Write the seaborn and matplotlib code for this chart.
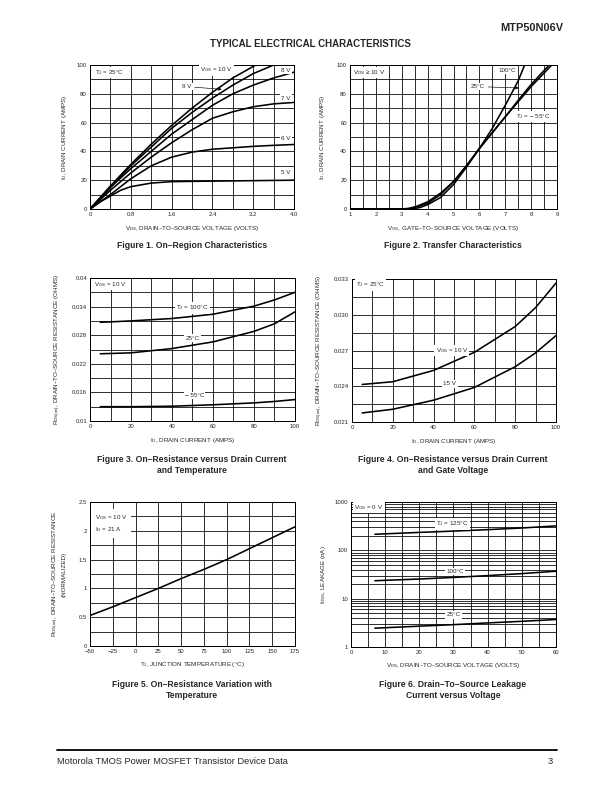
import numpy as np
import pandas as pd
import matplotlib
matplotlib.use('Agg')
import matplotlib.pyplot as plt
import seaborn as sns

# ---- Figure 1: on-region characteristics (VDS, ID) per VGS
f1_vgs10_x = [0, 0.4, 0.8, 1.2, 1.6, 2.0, 2.4, 2.8, 3.25]
f1_vgs10_y = [0, 16, 31, 45, 58, 70, 81, 91, 100]
f1_vgs9_x = [0, 0.4, 0.8, 1.2, 1.6, 2.0, 2.4, 2.8, 3.2, 3.6]
f1_vgs9_y = [0, 15, 30, 43, 56, 67, 77, 86, 94, 100]
f1_vgs8_x = [0, 0.4, 0.8, 1.2, 1.6, 2.0, 2.4, 2.8, 3.2, 3.6, 4.0]
f1_vgs8_y = [0, 15, 28, 40, 52, 62, 72, 80, 86, 91, 95]
f1_vgs7_x = [0, 0.4, 0.8, 1.2, 1.6, 2.0, 2.4, 2.8, 3.2, 3.6, 4.0]
f1_vgs7_y = [0, 13, 25, 36, 46, 55, 63, 67.5, 71, 73, 74]
f1_vgs6_x = [0, 0.4, 0.8, 1.2, 1.6, 2.0, 2.4, 2.8, 3.2, 3.6, 4.0]
f1_vgs6_y = [0, 10, 21, 30, 36, 39.5, 41.5, 42.5, 43.5, 44.2, 44.8]
f1_vgs5_x = [0, 0.2, 0.4, 0.6, 0.8, 1.2, 1.6, 2.0, 3.0, 4.0]
f1_vgs5_y = [0, 5, 9, 13, 15.5, 18, 19, 19.2, 19.6, 20]

# ---- Figure 2: transfer characteristics (VGS, ID) per TJ
f2_t100_x = [1, 3.0, 3.3, 3.6, 4.0, 4.5, 5.0, 5.5, 6.0, 6.5, 7.0, 7.5, 7.75]
f2_t100_y = [0, 0, 0.5, 2, 5, 11, 19, 30, 42, 56, 72, 89, 100]
f2_t25_x = [1, 3.2, 3.5, 4.0, 4.5, 5.0, 5.5, 6.0, 6.5, 7.0, 7.5, 8.0, 8.7]
f2_t25_y = [0, 0, 1, 4, 10, 19, 30, 42, 53, 64, 75.5, 86.5, 100]
f2_tm55_x = [1, 3.4, 3.7, 4.0, 4.5, 5.0, 5.5, 6.0, 6.5, 7.0, 7.5, 8.0, 8.8]
f2_tm55_y = [0, 0, 1, 3, 8, 17, 29, 42, 53, 64, 74.5, 85, 100]

# ---- Figure 3: RDS(on) vs ID per TJ
f3_id = [5, 20, 40, 60, 80, 90, 100]
f3_t100 = [0.0307, 0.0310, 0.0315, 0.0324, 0.0341, 0.0354, 0.0370]
f3_t25 = [0.0241, 0.0243, 0.0252, 0.0266, 0.0288, 0.0304, 0.0329]
f3_tm55 = [0.0130, 0.0130, 0.0131, 0.0134, 0.0138, 0.0141, 0.0145]

# ---- Figure 4: RDS(on) vs ID per VGS
f4_id = [5, 20, 40, 60, 80, 90, 100]
f4_v10 = [0.02415, 0.02438, 0.02533, 0.02685, 0.02901, 0.03060, 0.03266]
f4_v15 = [0.02176, 0.02207, 0.02283, 0.02390, 0.02564, 0.02680, 0.02825]

# ---- Figure 5: normalized RDS(on) vs TJ
f5_tj = [-50, -25, 0, 25, 50, 75, 100, 125, 150, 175]
f5_rds = [0.53, 0.68, 0.84, 1.0, 1.17, 1.33, 1.5, 1.69, 1.88, 2.07]

# ---- Figure 6: IDSS leakage vs VDS per TJ
f6_vds = [7, 20, 30, 40, 50, 60]
f6_t125 = [215, 235, 250, 268, 290, 320]
f6_t100 = [23.5, 25.5, 27.5, 30, 33, 37]
f6_t25 = [2.45, 2.7, 2.9, 3.15, 3.4, 3.7]

sns.set_style('white')
plt.rcParams['font.family'] = ['Liberation Sans', 'DejaVu Sans']
plt.rcParams['mathtext.default'] = 'regular'

fig = plt.figure(figsize=(8.5, 11), dpi=72)

W, H = 612, 792
def add_ax(x0, x1, y0, y1):
    return fig.add_axes([x0 / W, 1 - y1 / H, (x1 - x0) / W, (y1 - y0) / H])

ax1 = add_ax(90, 294, 65, 209)
ax2 = add_ax(350, 557, 65, 209)
ax3 = add_ax(90, 295, 278, 421)
ax4 = add_ax(352, 556, 279, 422)
ax5 = add_ax(90, 295, 502, 646)
ax6 = add_ax(351, 556, 502, 647)

TICK = 6
LAB = 6.2
BOX = dict(facecolor='white', edgecolor='none', pad=1.2)

def setup(ax, xlim, ylim, xmaj, xmin, ymaj, ymin, xlabels, ylabels, xlabel, ylabel, ylx, xly):
    ax.set_xlim(xlim)
    ax.set_ylim(ylim)
    ax.set_xticks(xmaj)
    ax.set_xticklabels(xlabels)
    ax.set_xticks(xmin, minor=True)
    if ymaj is not None:
        ax.set_yticks(ymaj)
        ax.set_yticklabels(ylabels)
        ax.set_yticks(ymin, minor=True)
    ax.tick_params(which='both', length=0, labelsize=TICK, pad=3)
    ax.grid(True, which='both', color='black', lw=0.8)
    for s in ax.spines.values():
        s.set_color('black')
        s.set_linewidth(1.0)
    ax.set_xlabel(xlabel, fontsize=LAB)
    ax.set_ylabel(ylabel, fontsize=LAB)
    ax.yaxis.set_label_coords(ylx, 0.5)
    ax.xaxis.set_label_coords(0.5, xly)

def curve(ax, x, y):
    sns.lineplot(x=x, y=y, ax=ax, color='black', lw=1.6, zorder=3)

# Figure 1
for x, y in [(f1_vgs10_x, f1_vgs10_y), (f1_vgs9_x, f1_vgs9_y), (f1_vgs8_x, f1_vgs8_y),
             (f1_vgs7_x, f1_vgs7_y), (f1_vgs6_x, f1_vgs6_y), (f1_vgs5_x, f1_vgs5_y)]:
    curve(ax1, x, y)
setup(ax1, (0, 4.0), (0, 100), np.arange(0, 4.01, 0.8), np.arange(0, 4.01, 0.4),
      np.arange(0, 101, 20), np.arange(0, 101, 10),
      ['0', '0.8', '1.6', '2.4', '3.2', '4.0'], ['0', '20', '40', '60', '80', '100'],
      r'V$_{DS}$, DRAIN–TO–SOURCE VOLTAGE (VOLTS)', r'I$_D$, DRAIN CURRENT (AMPS)', -0.105, -0.107)
ax1.text(0.1, 95, r'T$_J$ = 25°C', fontsize=LAB, va='center', bbox=BOX, zorder=5)
ax1.text(2.48, 96.5, r'V$_{GS}$ = 10 V', fontsize=LAB, ha='center', va='center', bbox=BOX, zorder=5)
ax1.annotate('9 V', xy=(2.62, 83), xytext=(1.9, 85), fontsize=LAB, ha='center', va='center',
             bbox=BOX, zorder=5, arrowprops=dict(arrowstyle='-|>', color='black', lw=0.6, mutation_scale=6))
for txt, yy in [('8 V', 96.5), ('7 V', 77), ('6 V', 49), ('5 V', 25)]:
    ax1.text(3.84, yy, txt, fontsize=LAB, ha='center', va='center', bbox=BOX, zorder=5)

# Figure 2
for x, y in [(f2_t100_x, f2_t100_y), (f2_t25_x, f2_t25_y), (f2_tm55_x, f2_tm55_y)]:
    curve(ax2, x, y)
setup(ax2, (1, 9), (0, 100), np.arange(1, 9.01, 1), np.arange(1, 9.01, 0.5),
      np.arange(0, 101, 20), np.arange(0, 101, 10),
      [str(v) for v in range(1, 10)], ['0', '20', '40', '60', '80', '100'],
      r'V$_{GS}$, GATE–TO–SOURCE VOLTAGE (VOLTS)', r'I$_D$, DRAIN CURRENT (AMPS)', -0.11, -0.107)
ax2.text(1.1, 95, r'V$_{DS}$ ≥ 10 V', fontsize=LAB, va='center', bbox=BOX, zorder=5)
ax2.text(7.07, 96.5, '100°C', fontsize=LAB, ha='center', va='center', bbox=BOX, zorder=5)
ax2.annotate('25°C', xy=(7.6, 84), xytext=(5.95, 85), fontsize=LAB, ha='center', va='center',
             bbox=BOX, zorder=5, arrowprops=dict(arrowstyle='-|>', color='black', lw=0.6, mutation_scale=6))
ax2.text(8.07, 64, r'T$_J$ = − 55°C', fontsize=LAB, ha='center', va='center', bbox=BOX, zorder=5)

# Figure 3
for y in [f3_t100, f3_t25, f3_tm55]:
    curve(ax3, f3_id, y)
setup(ax3, (0, 100), (0.01, 0.04), np.arange(0, 101, 20), np.arange(0, 101, 10),
      np.arange(0.01, 0.0401, 0.006), np.arange(0.01, 0.0401, 0.003),
      ['0', '20', '40', '60', '80', '100'], ['0.01', '0.016', '0.022', '0.028', '0.034', '0.04'],
      r'I$_D$, DRAIN CURRENT (AMPS)', r'R$_{DS(on)}$, DRAIN–TO–SOURCE RESISTANCE (OHMS)', -0.13, -0.105)
ax3.text(2, 0.0386, r'V$_{GS}$ = 10 V', fontsize=LAB, va='center', bbox=BOX, zorder=5)
ax3.text(50, 0.0337, r'T$_J$ = 100°C', fontsize=LAB, ha='center', va='center', bbox=BOX, zorder=5)
ax3.text(50, 0.0274, '25°C', fontsize=LAB, ha='center', va='center', bbox=BOX, zorder=5)
ax3.text(51, 0.0154, '− 55°C', fontsize=LAB, ha='center', va='center', bbox=BOX, zorder=5)

# Figure 4
for y in [f4_v10, f4_v15]:
    curve(ax4, f4_id, y)
setup(ax4, (0, 100), (0.021, 0.033), np.arange(0, 101, 20), np.arange(0, 101, 10),
      np.arange(0.021, 0.03301, 0.003), np.arange(0.021, 0.03301, 0.0015),
      ['0', '20', '40', '60', '80', '100'], ['0.021', '0.024', '0.027', '0.030', '0.033'],
      r'I$_D$, DRAIN CURRENT (AMPS)', r'R$_{DS(on)}$, DRAIN–TO–SOURCE RESISTANCE (OHMS)', -0.13, -0.105)
ax4.text(2, 0.0325, r'T$_J$ = 25°C', fontsize=LAB, va='center', bbox=BOX, zorder=5)
ax4.text(49, 0.0270, r'V$_{GS}$ = 10 V', fontsize=LAB, ha='center', va='center', bbox=BOX, zorder=5)
ax4.text(48, 0.0242, '15 V', fontsize=LAB, ha='center', va='center', bbox=BOX, zorder=5)

# Figure 5
curve(ax5, f5_tj, f5_rds)
setup(ax5, (-50, 175), (0, 2.5), np.arange(-50, 176, 25), [],
      np.arange(0, 2.51, 0.5), np.arange(0, 2.51, 0.25),
      ['−50', '−25', '0', '25', '50', '75', '100', '125', '150', '175'],
      ['0', '0.5', '1', '1.5', '2', '2.5'],
      r'T$_J$, JUNCTION TEMPERATURE (°C)',
      'R$_{DS(on)}$, DRAIN–TO–SOURCE RESISTANCE\n(NORMALIZED)', -0.115, -0.10)
ax5.text(-45, 2.12, r'V$_{GS}$ = 10 V' + '\n' + r'I$_D$ = 21 A', fontsize=LAB, va='center',
         linespacing=1.5, bbox=dict(facecolor='white', edgecolor='none', pad=4), zorder=5)

# Figure 6
for y in [f6_t125, f6_t100, f6_t25]:
    curve(ax6, f6_vds, y)
ax6.set_yscale('log')
setup(ax6, (0, 60), (1, 1000), np.arange(0, 61, 10), np.arange(0, 61, 5),
      None, None, ['0', '10', '20', '30', '40', '50', '60'], None,
      r'V$_{DS}$, DRAIN–TO–SOURCE VOLTAGE (VOLTS)', r'I$_{DSS}$, LEAKAGE (nA)', -0.11, -0.10)
ax6.set_yticks([1, 10, 100, 1000])
ax6.set_yticklabels(['1', '10', '100', '1000'])
ax6.set_yticks([m * d for d in [1, 10, 100] for m in range(2, 10)], minor=True)
ax6.tick_params(which='both', length=0, labelsize=TICK, pad=3)
ax6.yaxis.set_minor_formatter(plt.NullFormatter())
ax6.text(1, 760, r'V$_{GS}$ = 0 V', fontsize=LAB, va='center', bbox=BOX, zorder=5)
ax6.text(29.6, 350, r'T$_J$ = 125°C', fontsize=LAB, ha='center', va='center', bbox=BOX, zorder=5)
ax6.text(30.4, 36, '100°C', fontsize=LAB, ha='center', va='center', bbox=BOX, zorder=5)
ax6.text(30, 4.6, '25°C', fontsize=LAB, ha='center', va='center', bbox=BOX, zorder=5)

# page text
fig.text(563 / W, 1 - 28 / H, 'MTP50N06V', fontsize=11, fontweight='heavy', ha='right', va='center')
fig.text(310 / W, 1 - 44 / H, 'TYPICAL ELECTRICAL CHARACTERISTICS', fontsize=9.8, fontweight='bold',
         ha='center', va='center')
caps = [(192, 246, 'Figure 1. On–Region Characteristics'),
        (453, 246, 'Figure 2. Transfer Characteristics'),
        (192, 465, 'Figure 3. On–Resistance versus Drain Current\nand Temperature'),
        (453, 465, 'Figure 4. On–Resistance versus Drain Current\nand Gate Voltage'),
        (192, 690, 'Figure 5. On–Resistance Variation with\nTemperature'),
        (453, 690, 'Figure 6. Drain–To–Source Leakage\nCurrent versus Voltage')]
for cx, cy, t in caps:
    fig.text(cx / W, 1 - cy / H, t, fontsize=8.6, fontweight='bold', ha='center', va='center',
             linespacing=1.15)

fig.add_artist(plt.Line2D([57 / W, 557 / W], [1 - 750 / H, 1 - 750 / H], color='black', lw=1.8))
fig.text(57 / W, 1 - 761 / H, 'Motorola TMOS Power MOSFET Transistor Device Data', fontsize=9.3,
         ha='left', va='center')
fig.text(553 / W, 1 - 761 / H, '3', fontsize=9.3, ha='right', va='center')

fig.savefig('out.png', dpi=72)
